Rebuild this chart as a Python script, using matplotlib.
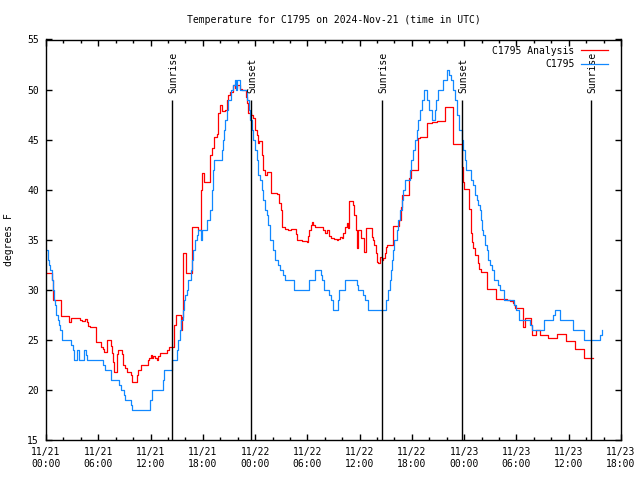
import matplotlib
matplotlib.use('Agg')
import matplotlib.pyplot as plt
import numpy as np

# hours since 11/21 00:00 UTC
obs_hours = [0.0, 0.2, 0.35, 0.5, 0.65, 0.8, 0.95, 1.05, 1.2, 1.35, 1.5, 1.65, 1.87,
             2.87, 3.14, 3.25, 3.6, 3.75, 4.36, 4.55, 4.75, 6.58, 6.75, 7.42, 8.34,
             8.65, 8.95, 9.1, 9.72, 9.87, 11.98, 12.15, 13.39, 13.58, 14.5, 15.0,
             15.2, 15.38, 15.55, 15.69, 15.85, 15.96, 16.15, 16.34, 16.61, 16.75,
             16.91, 17.1, 17.3, 17.49, 17.8, 17.9, 18.45, 18.83, 19.02, 19.1, 19.15,
             19.2, 19.29, 20.17, 20.35, 20.45, 20.55, 20.75, 20.93, 21.2, 21.5, 21.7,
             21.85, 21.95, 22.27, 23.11, 23.25, 23.42, 23.6, 23.8, 24.0, 24.19, 24.38,
             24.57, 24.76, 24.95, 25.14, 25.34, 25.52, 25.72, 26.1, 26.29, 26.67,
             26.87, 27.25, 27.44, 28.51, 30.2, 30.88, 31.54, 31.65, 31.92, 32.53,
             32.76, 32.99, 33.52, 33.68, 34.27, 35.67, 35.86, 36.36, 36.62, 37.0,
             39.04, 39.3, 39.45, 39.57, 39.69, 39.87, 40.0, 40.26, 40.45, 40.64,
             40.85, 41.02, 41.22, 41.79, 41.95, 42.1, 42.37, 42.56, 42.75, 42.94,
             43.13, 43.4, 43.71, 44.0, 44.28, 44.66, 44.8, 45.04, 45.62, 46.0, 46.24,
             46.46, 46.69, 46.96, 47.22, 47.45, 47.73, 47.92, 48.1, 48.22, 48.8,
             49.06, 49.25, 49.45, 49.64, 49.83, 49.9, 50.02, 50.21, 50.4, 50.6,
             50.78, 51.0, 51.17, 51.47, 51.93, 52.12, 52.58, 53.77, 53.96, 54.34,
             55.57, 55.76, 57.21, 58.24, 58.44, 59.01, 60.47, 61.77, 63.6, 63.8, 63.85]
obs_temps = [34, 33, 32.5, 32, 31, 30, 29, 28.5, 27.5, 27, 26.5, 26, 25,
             24.5, 24, 23, 24, 23, 24, 23.5, 23, 22.5, 22, 21, 20.5,
             20, 19.5, 19, 18.5, 18, 19, 20, 21, 22, 23, 24,
             25, 26, 27, 28, 29, 29.5, 30, 31, 32, 33,
             34, 35, 35.5, 36, 35, 36, 37, 38, 39, 40, 41,
             42, 43, 44, 45, 46, 47, 48, 49, 50, 50.5, 51,
             50, 51, 50, 49, 48, 47, 46, 45, 44, 43, 41.5,
             41, 40, 39, 38, 37.5, 36.5, 35, 34, 33, 32.5,
             32, 31.5, 31, 30, 31, 32, 31.5, 31, 30, 29.5,
             29, 28, 29, 30, 31, 30.5, 30, 29.5, 29, 28,
             29, 30, 31, 32, 33, 34, 35, 36, 37, 38,
             39, 40, 41, 42, 43, 44, 45, 46, 47, 48,
             49, 50, 49, 48, 47, 48, 49, 50, 51, 52, 51.5,
             51, 50, 49, 47.5, 46, 45, 44, 43, 42, 41,
             40.5, 39.5, 39, 38.5, 38, 37, 36, 35.5, 34.5, 34,
             33, 32.5, 32, 31, 30.5, 30, 29, 28.5, 28, 27,
             26.5, 26, 27, 27.5, 28, 27, 26, 25, 25.5, 26, 26]

ana_hours = [0.0, 0.65, 0.75, 0.84, 1.72, 2.68, 2.87, 3.9, 4.1, 4.48, 4.67, 4.86,
             5.05, 5.7, 6.28, 6.5, 6.7, 6.96, 7.42, 7.54, 7.65, 7.81, 8.11, 8.2,
             8.3, 8.69, 8.88, 9.07, 9.34, 9.72, 9.87, 10.41, 10.6, 10.87, 11.75,
             11.86, 12.02, 12.15, 12.32, 12.51, 12.7, 12.89, 13.09, 13.86, 14.16,
             14.73, 14.93, 15.46, 15.58, 15.69, 15.76, 16.07, 16.72, 17.49, 17.76,
             17.87, 18.14, 18.83, 19.02, 19.29, 19.6, 19.78, 19.98, 20.17, 20.55,
             20.75, 20.93, 21.13, 21.5, 21.7, 21.96, 22.27, 22.47, 22.96, 23.11,
             23.23, 23.5, 23.73, 24.0, 24.19, 24.38, 24.5, 24.76, 24.87, 25.14,
             25.34, 25.8, 26.48, 26.79, 26.94, 27.06, 27.44, 27.82, 28.1, 28.51,
             28.66, 28.85, 29.36, 29.93, 30.12, 30.24, 30.39, 30.5, 30.69, 30.88,
             31.84, 32.03, 32.3, 32.49, 32.69, 33.0, 33.38, 33.56, 33.75, 33.95,
             34.13, 34.33, 34.52, 34.71, 34.82, 35.28, 35.4, 35.56, 35.7, 35.8,
             36.17, 36.51, 36.74, 37.31, 37.46, 37.58, 37.69, 37.85, 37.97, 38.16,
             38.35, 38.54, 38.73, 38.92, 39.04, 39.19, 39.8, 40.56, 40.72, 40.84,
             41.71, 41.87, 42.75, 42.94, 43.71, 44.28, 44.86, 45.84, 46.76, 47.76,
             47.92, 48.03, 48.6, 48.76, 48.87, 48.99, 49.29, 49.64, 49.75, 49.9,
             50.67, 51.67, 52.96, 53.27, 53.58, 53.73, 53.85, 54.73, 54.99, 55.65,
             55.76, 56.26, 56.72, 57.67, 58.71, 59.7, 60.73, 61.77, 62.76]
ana_temps = [31.7, 31.0, 30.5, 29.0, 27.4, 26.8, 27.2, 27.0, 26.9, 27.1, 26.8, 26.4,
             26.3, 24.8, 24.3, 24.1, 23.8, 25.0, 24.4, 23.7, 22.8, 21.8, 23.0, 23.6,
             24.0, 23.6, 22.5, 22.2, 21.8, 21.5, 20.8, 21.5, 22.0, 22.5, 23.0,
             23.2, 23.5, 23.2, 23.4, 23.2, 23.0, 23.4, 23.7, 24.0, 24.3,
             26.5, 27.5, 26.0, 27.3, 29.7, 33.7, 31.7, 36.3, 36.0, 40.0,
             41.7, 40.8, 43.5, 44.2, 45.3, 45.6, 47.7, 48.5, 47.9, 48.0,
             49.0, 49.5, 49.8, 50.5, 50.2, 50.5, 50.1, 50.0, 49.3, 48.7,
             47.7, 47.5, 47.2, 46.0, 45.5, 44.7, 44.9, 43.5, 42.0, 41.5,
             41.8, 39.7, 39.6, 38.7, 38.0, 36.3, 36.1, 36.0, 36.1, 36.1,
             35.6, 35.0, 34.9, 34.8, 35.4, 36.0, 36.5, 36.8, 36.5, 36.3,
             36.0, 35.7, 36.0, 35.4, 35.2, 35.1, 35.0, 35.1, 35.3, 35.2,
             35.7, 36.3, 36.7, 36.2, 38.9, 38.5, 37.5, 36.0, 34.2, 36.0,
             35.2, 33.8, 36.2, 36.2, 35.3, 35.0, 34.5, 33.7, 32.8, 32.7,
             33.3, 33.0, 33.2, 33.7, 34.3, 34.5, 36.4, 37.0, 38.3, 39.5,
             41.2, 42.0, 45.2, 45.3, 46.7, 46.8, 46.9, 48.3, 44.6, 42.3,
             40.8, 40.1, 38.1, 35.7, 34.8, 34.2, 33.5, 32.7, 32.1, 31.8,
             30.1, 29.1, 29.0, 28.9, 28.7, 28.5, 28.2, 26.3, 27.2, 26.5,
             25.5, 26.0, 25.5, 25.2, 25.6, 24.9, 24.1, 23.2, 23.2]

sunrise_hours = [14.5, 38.54, 62.53]
sunset_hours = [23.58, 47.73]

tick_hours = list(range(0, 67, 6))
tick_labels = ['11/21\n00:00', '11/21\n06:00', '11/21\n12:00', '11/21\n18:00',
               '11/22\n00:00', '11/22\n06:00', '11/22\n12:00', '11/22\n18:00',
               '11/23\n00:00', '11/23\n06:00', '11/23\n12:00', '11/23\n18:00']

plt.rcParams['font.family'] = ['DejaVu Sans Mono']
plt.rcParams['font.size'] = 7

fig = plt.figure(figsize=(6.4, 4.8), dpi=100)
ax = fig.add_axes([46/640, 40/480, 575/640, 400.5/480])

ax.plot(ana_hours, ana_temps, drawstyle='steps-post', color='#ff0000', lw=0.9,
        label='C1795 Analysis')
ax.plot(obs_hours, obs_temps, drawstyle='steps-post', color='#1188ff', lw=0.9,
        label='C1795')

ax.vlines(sunrise_hours + sunset_hours, 15, 49, color='black', lw=1.0)
for h in sunrise_hours:
  ax.text(h + 0.15, 49.7, 'Sunrise', rotation=90, ha='center', va='bottom')
for h in sunset_hours:
  ax.text(h + 0.15, 49.7, 'Sunset', rotation=90, ha='center', va='bottom')

ax.set_xlim(0, 66)
ax.set_ylim(15, 55)
ax.set_xticks(tick_hours)
ax.set_xticklabels(tick_labels)
ax.set_xticks(np.arange(0, 67, 2), minor=True)
ax.set_yticks(np.arange(15, 56, 5))
ax.tick_params(which='both', direction='in', top=True, right=True, pad=5, width=1)
ax.tick_params(which='major', length=4)
ax.tick_params(which='minor', length=2)
for s in ax.spines.values():
  s.set_linewidth(1.0)

ax.set_ylabel('degrees F')
ax.yaxis.set_label_coords(-32/575, 0.5)
ax.set_title('Temperature for C1795 on 2024-Nov-21 (time in UTC)', pad=12, fontsize=7)

ax.legend(loc='upper right', bbox_to_anchor=(0.977, 0.985), frameon=False,
          markerfirst=False, handlelength=2.8, handletextpad=0.6,
          labelspacing=0.35, borderpad=0, borderaxespad=0)

fig.savefig('out.png', dpi=100)
